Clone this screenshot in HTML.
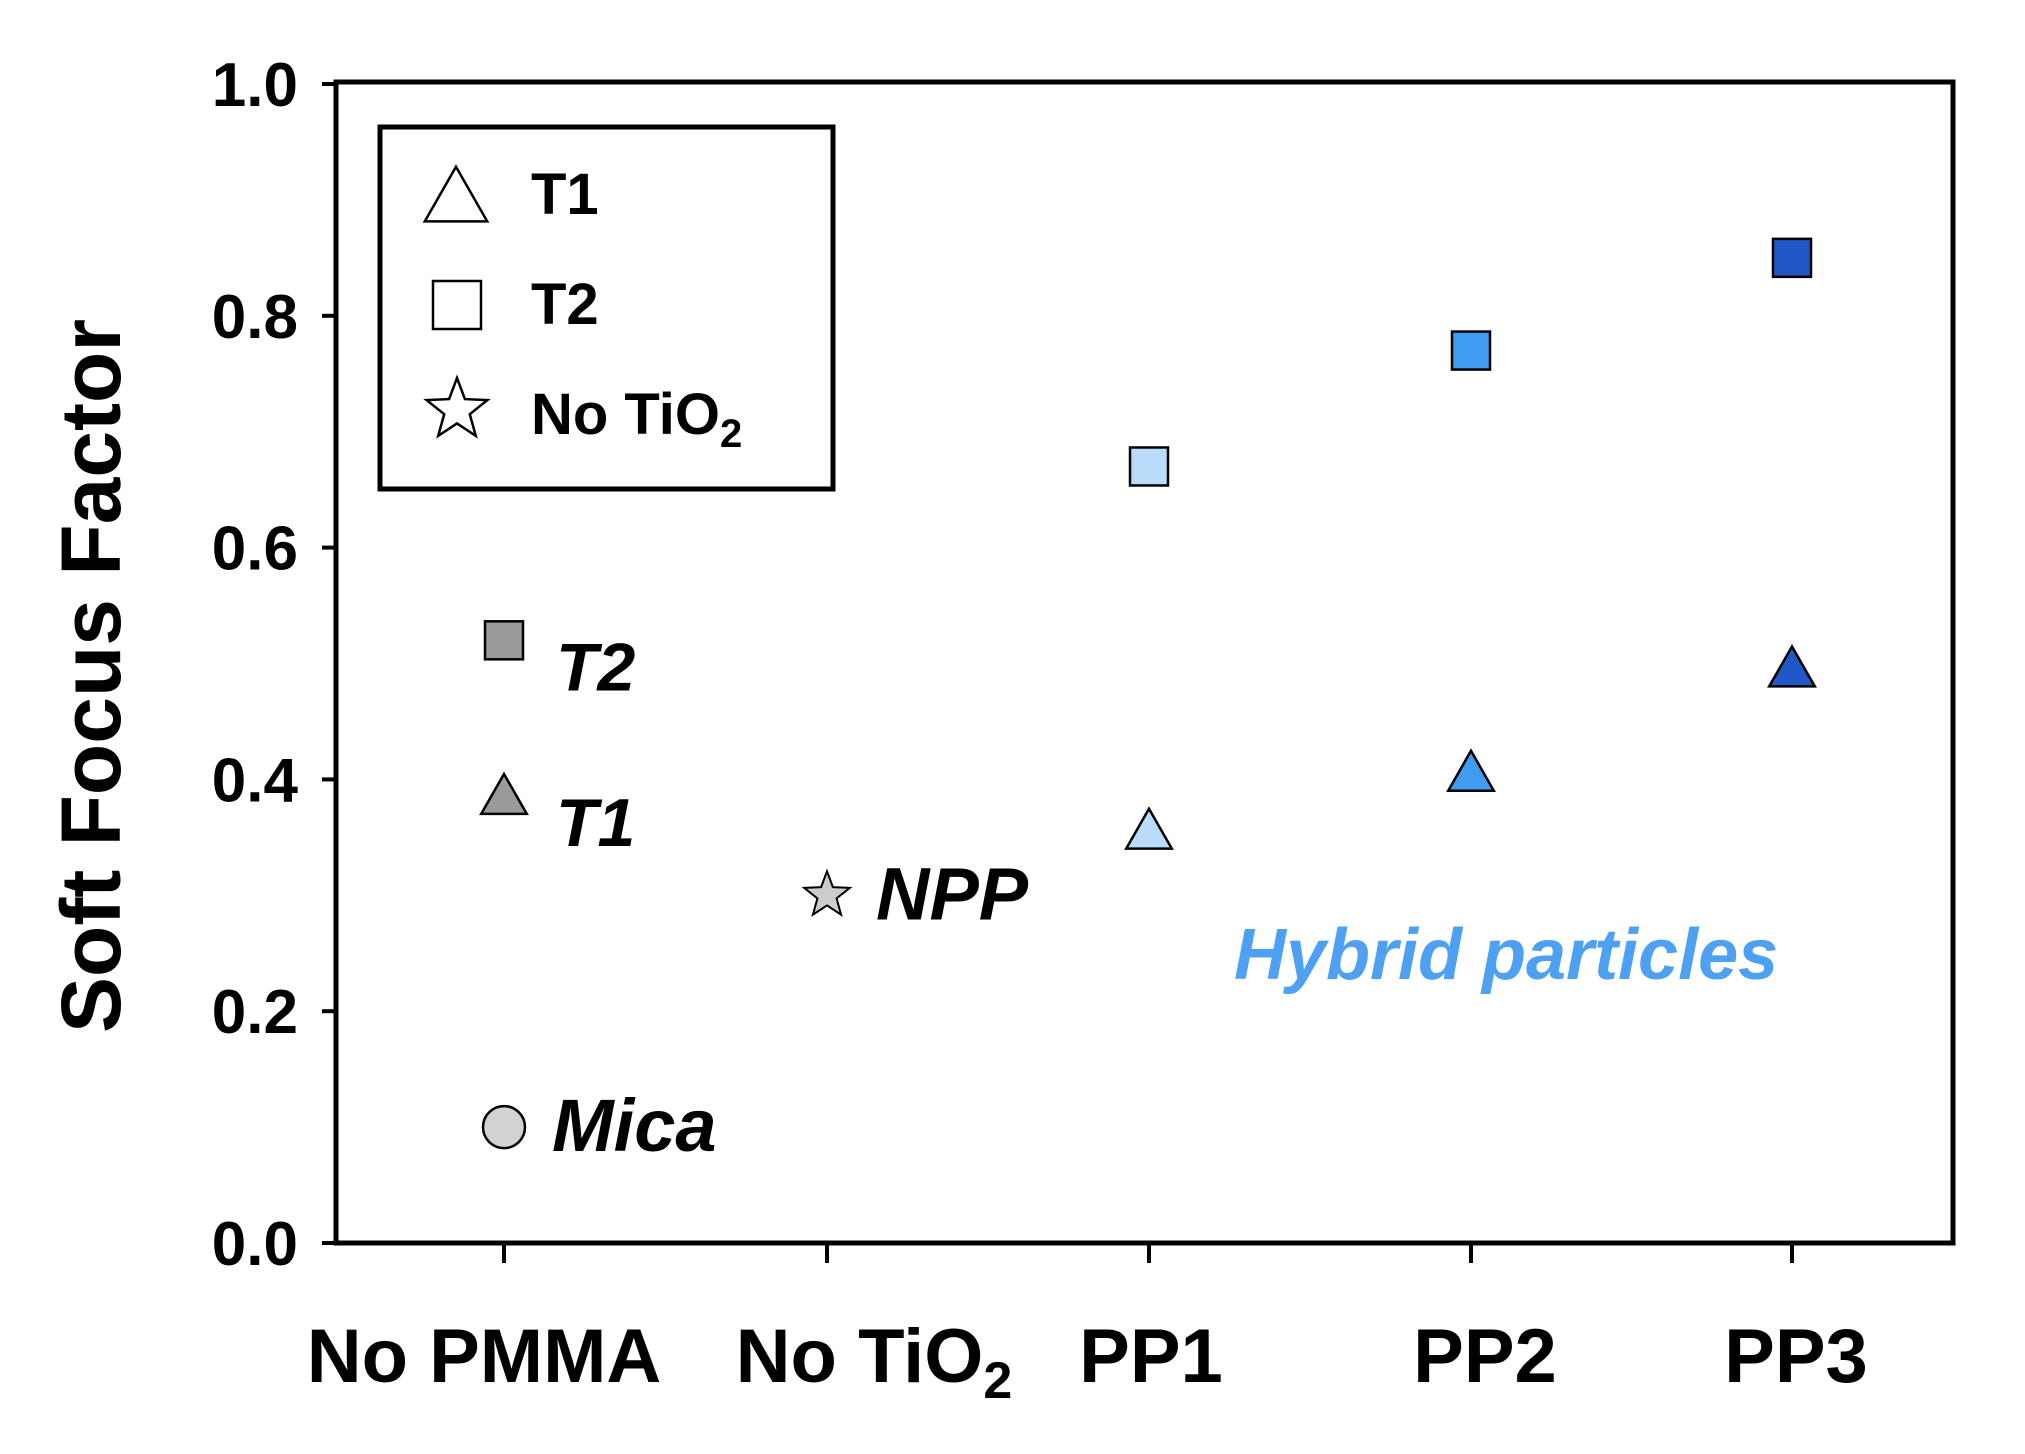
<!DOCTYPE html>
<html><head><meta charset="utf-8"><style>
body{margin:0;background:#fff}
svg text{font-family:"Liberation Sans",Arial,sans-serif;font-weight:bold}
</style></head><body>
<svg width="2025" height="1449" viewBox="0 0 2025 1449" xmlns="http://www.w3.org/2000/svg">
<g id="axes"></g>
<g id="marks"></g>
</svg>
<script>
const categories=["No PMMA","No TiO2","PP1","PP2","PP3"];
const t1Values=[0.385,null,0.355,0.405,0.495];
const t2Values=[0.52,null,0.67,0.77,0.85];
const nptValues=[null,0.30,null,null,null];
const micaValues=[0.10,null,null,null,null];
const catColors=["#9a9a9a","#cccccc","#b9dcfa","#409cf0","#2257c8"];
const yTicks=[0,0.2,0.4,0.6,0.8,1.0];
const NS="http://www.w3.org/2000/svg";
const L=336,R=1953,T=82,B=1243;
const catX=[504,827,1149,1471,1792];
const labelX=[484,874,1151,1485,1796];
function xs(i){return catX[i];}
function ys(v){return B-(v/1.0)*(B-84);}
function mk(tag,attrs,parent,text){const e=document.createElementNS(NS,tag);for(const k in attrs)e.setAttribute(k,attrs[k]);if(text!==undefined)e.textContent=text;parent.appendChild(e);return e;}
const ax=document.getElementById('axes'),mg=document.getElementById('marks');
let e=mk('rect',{x:L,y:T,width:R-L,height:B-T,fill:'none',stroke:'#000','stroke-width':5},ax);


yTicks.forEach(v=>{
 let t=mk('line',{x1:L-14,x2:L,y1:ys(v),y2:ys(v),stroke:'#000','stroke-width':4},ax);
 
 
 let l=mk('text',{x:298,y:ys(v)+22,'text-anchor':'end','font-size':62},ax,v.toFixed(1));
 
 
});
categories.forEach((c,i)=>{
 let t=mk('line',{x1:xs(i),x2:xs(i),y1:B,y2:B+20,stroke:'#000','stroke-width':4},ax);
 
 
 let l=mk('text',{x:labelX[i],y:1382,'text-anchor':'middle','font-size':76},ax);
 
 
 if(c==="No TiO2"){l.textContent="No TiO";mk('tspan',{'font-size':52,dy:16},l,"2");}else l.textContent=c;
});
e=mk('text',{x:0,y:0,'text-anchor':'middle','font-size':84,transform:'translate(120,676) rotate(-90)'},ax,"Soft Focus Factor");


function tri(x,y,s,fill,p){return mk('polygon',{points:`${x},${y-s*0.6} ${x-s*0.6},${y+s*0.45} ${x+s*0.6},${y+s*0.45}`,fill:fill,stroke:'#000','stroke-width':2.5},p);}
function sq(x,y,s,fill,p){return mk('rect',{x:x-s/2,y:y-s/2,width:s,height:s,fill:fill,stroke:'#000','stroke-width':2.5},p);}
function star(x,y,r,fill,p,sw){let pts=[];for(let k=0;k<10;k++){const a=-Math.PI/2+k*Math.PI/5,rr=k%2?r*0.42:r;pts.push((x+rr*Math.cos(a)).toFixed(1)+','+(y+rr*Math.sin(a)).toFixed(1));}return mk('polygon',{points:pts.join(' '),fill:fill,stroke:'#000','stroke-width':sw||2},p);}
t2Values.forEach((v,i)=>{if(v==null)return;let m=sq(xs(i),ys(v),38,catColors[i],mg);});
t1Values.forEach((v,i)=>{if(v==null)return;let m=tri(xs(i),ys(v),38,catColors[i],mg);});
nptValues.forEach((v,i)=>{if(v==null)return;let m=star(xs(i),ys(v),24,catColors[i],mg);});
micaValues.forEach((v,i)=>{if(v==null)return;let m=mk('circle',{cx:xs(i),cy:ys(v),r:21,fill:'#d2d2d2',stroke:'#000','stroke-width':2.5},mg);});
function lab(txt,x,y,name,col,fs){let t=mk('text',{x:x,y:y,'font-size':fs||68,'font-style':'italic',fill:col||'#000'},mg,txt);}
lab("T2",556,ys(t2Values[0])+50,'t2-annotation');
lab("T1",556,ys(t1Values[0])+49,'t1-annotation');
lab("Mica",552,ys(micaValues[0])+24,'mica-annotation',null,74);
lab("NPP",876,ys(nptValues[1])+24,'npp-annotation',null,74);
lab("Hybrid particles",1234,979,'hybrid-particles-annotation','#4ea1f2',72);
// legend
const lg=mk('g',{},mg);


mk('rect',{x:380,y:127,width:453,height:362,fill:'#fff',stroke:'#000','stroke-width':5},lg);
tri(456,198,52,'#fff',lg);
mk('text',{x:531,y:214,'font-size':58},lg,"T1");
sq(457,305,48,'#fff',lg);
mk('text',{x:531,y:324,'font-size':58},lg,"T2");
star(457,410,32,'#fff',lg,2.5);
let lt=mk('text',{x:531,y:434,'font-size':58},lg,"No TiO");

mk('tspan',{'font-size':40,dy:13},lt,"2");
</script>
</body></html>
